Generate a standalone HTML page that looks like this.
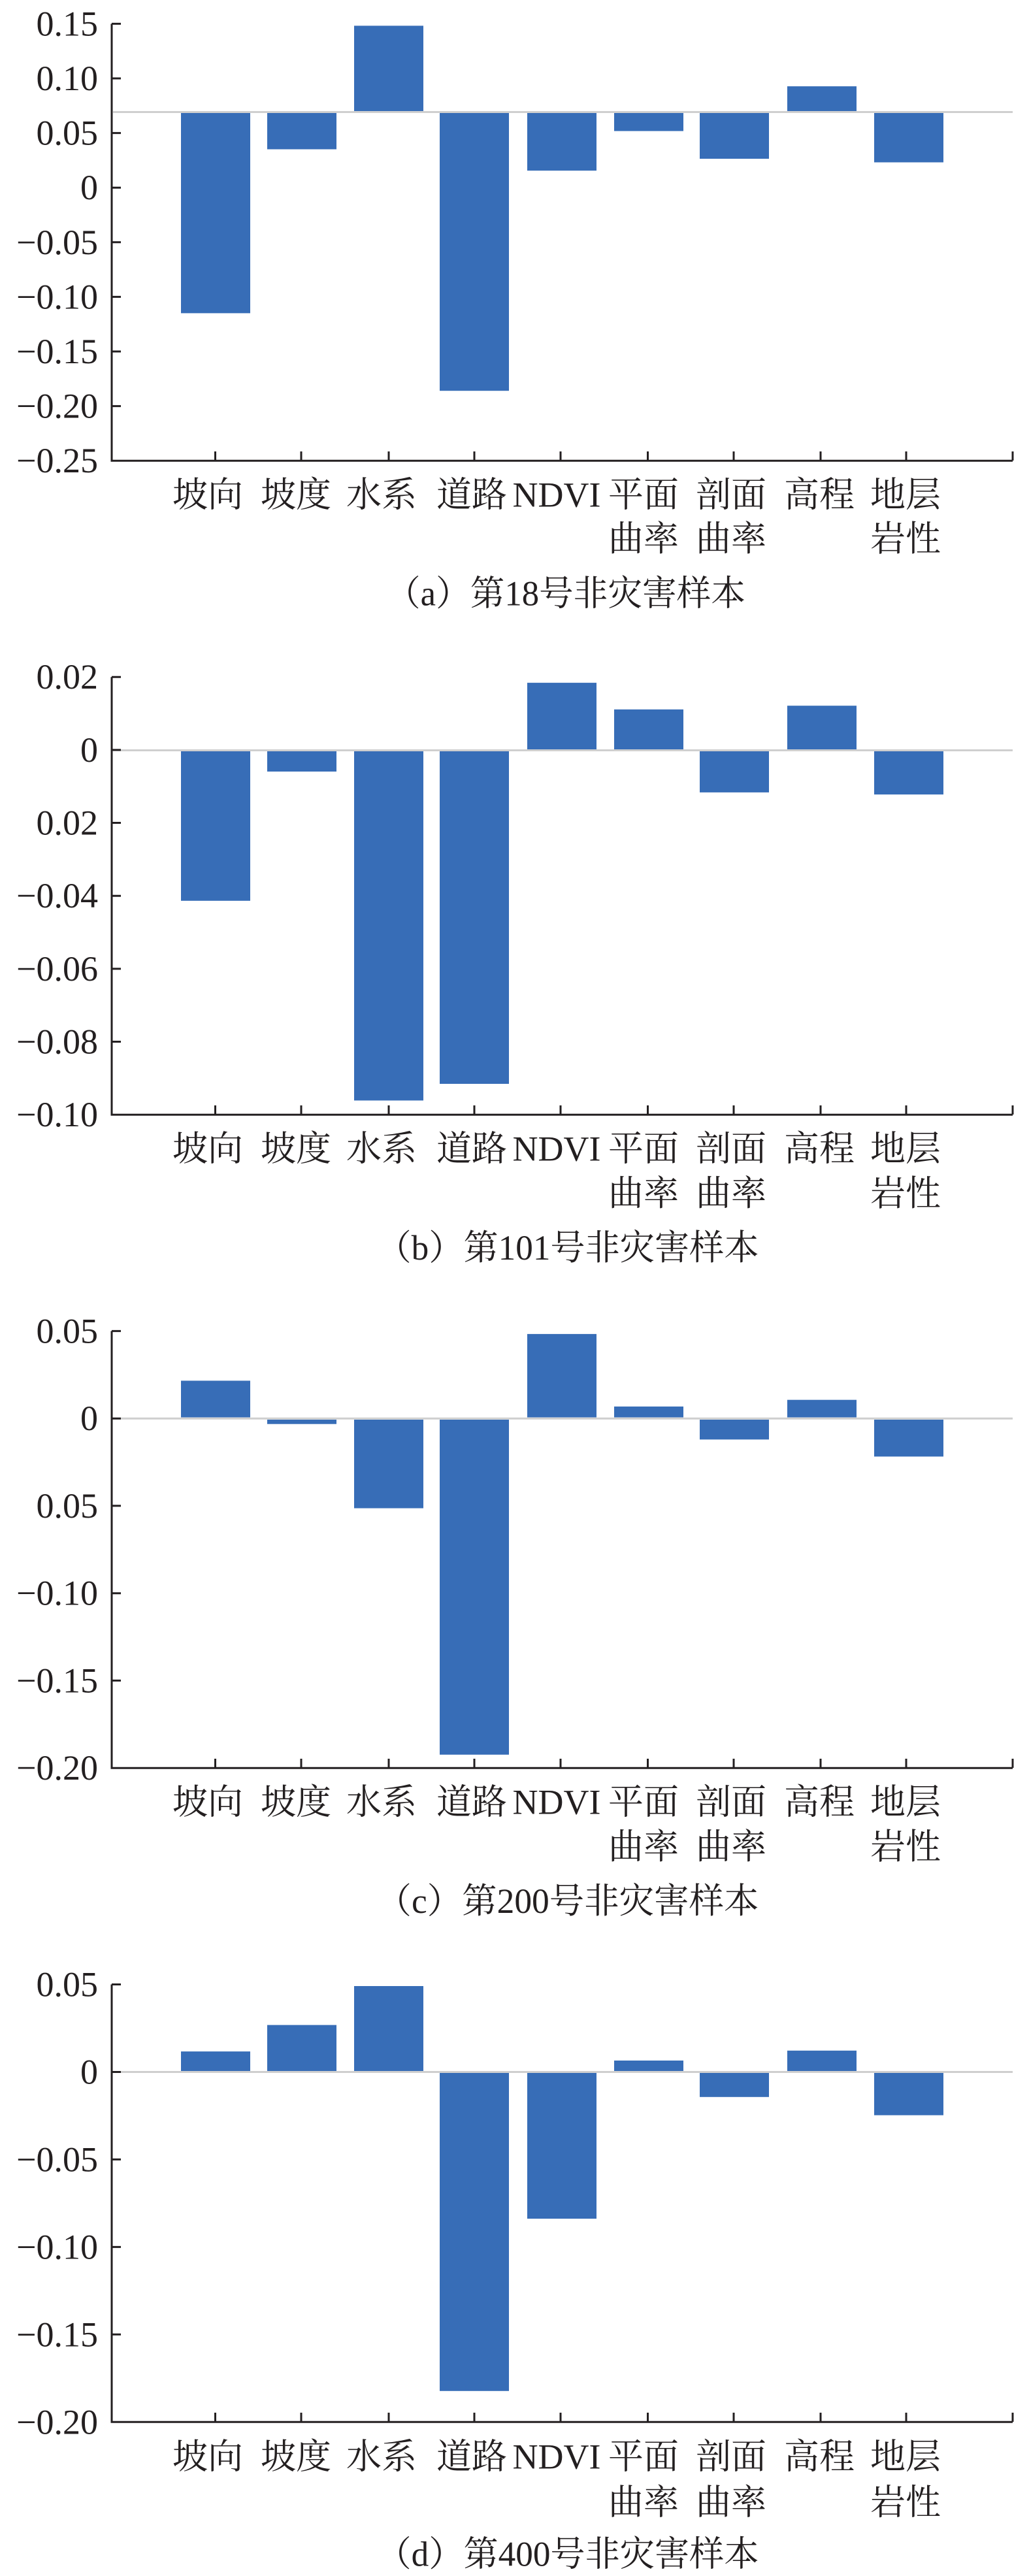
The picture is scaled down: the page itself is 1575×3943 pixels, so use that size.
<!DOCTYPE html>
<html><head><meta charset="utf-8"><style>
html,body{margin:0;padding:0;background:#fff;}
svg{display:block;}
.t{font-family:"Liberation Serif","Noto Serif CJK SC",serif;font-size:54px;fill:#231f20;}
.c{font-family:"Liberation Serif","Noto Serif CJK SC",serif;font-size:54px;fill:#231f20;text-anchor:middle;}
.y{font-family:"Liberation Serif",serif;font-size:54px;fill:#231f20;text-anchor:end;}
.b{fill:#376db7;}
</style></head><body>
<svg width="1575" height="3943" viewBox="0 0 1575 3943" xmlns="http://www.w3.org/2000/svg">
<rect width="1575" height="3943" fill="#fff"/>

<!-- Panel a -->
<g>
<rect class="b" x="277" y="173" width="106" height="306.4"/>
<rect class="b" x="409" y="173" width="106" height="55.5"/>
<rect class="b" x="542" y="39.4" width="106" height="130.6"/>
<rect class="b" x="673" y="173" width="106" height="425.2"/>
<rect class="b" x="807" y="173" width="106" height="88.2"/>
<rect class="b" x="940" y="173" width="106" height="27.6"/>
<rect class="b" x="1071" y="173" width="106" height="70"/>
<rect class="b" x="1205" y="132.1" width="106" height="37.9"/>
<rect class="b" x="1338" y="173" width="106" height="75.5"/>
<line x1="173" y1="171.5" x2="1550" y2="171.5" stroke="#cfcfcf" stroke-width="3"/>
<path d="M171 36.4V705.2H1550" fill="none" stroke="#231f20" stroke-width="3"/>
<g stroke="#231f20" stroke-width="3">
<path d="M171 36.4h14M171 120h14M171 203.6h14M171 287.2h14M171 370.8h14M171 454.4h14M171 538h14M171 621.6h14"/>
<path d="M329.5 705v-14M461 705v-14M595 705v-14M726 705v-14M858 705v-14M991.5 705v-14M1123 705v-14M1256 705v-14M1387 705v-14M1550 705v-14"/>
</g>
<text class="y" x="150" y="54.4">0.15</text>
<text class="y" x="150" y="138">0.10</text>
<text class="y" x="150" y="221.6">0.05</text>
<text class="y" x="150" y="305.2">0</text>
<text class="y" x="150" y="388.8">−0.05</text>
<text class="y" x="150" y="472.4">−0.10</text>
<text class="y" x="150" y="556">−0.15</text>
<text class="y" x="150" y="639.6">−0.20</text>
<text class="y" x="150" y="723.2">−0.25</text>
<text class="c" x="318" y="775.5">坡向</text>
<text class="c" x="453" y="775.5">坡度</text>
<text class="c" x="584" y="775.5">水系</text>
<text class="c" x="722" y="775.5">道路</text>
<text class="c" x="852" y="775.5">NDVI</text>
<text class="c" x="985" y="775.5">平面</text>
<text class="c" x="1119" y="775.5">剖面</text>
<text class="c" x="1254" y="775.5">高程</text>
<text class="c" x="1386" y="775.5">地层</text>
<text class="c" x="985" y="843">曲率</text>
<text class="c" x="1119" y="843">曲率</text>
<text class="c" x="1386" y="843">岩性</text>
<text class="c" x="866" y="926.5" textLength="550" lengthAdjust="spacingAndGlyphs">（a）第18号非灾害样本</text>
</g>

<!-- Panel b -->
<g>
<rect class="b" x="277" y="1150" width="106" height="228.8"/>
<rect class="b" x="409" y="1150" width="106" height="31"/>
<rect class="b" x="542" y="1150" width="106" height="534.5"/>
<rect class="b" x="673" y="1150" width="106" height="509"/>
<rect class="b" x="807" y="1045.1" width="106" height="101.9"/>
<rect class="b" x="940" y="1085.9" width="106" height="61.1"/>
<rect class="b" x="1071" y="1150" width="106" height="62.9"/>
<rect class="b" x="1205" y="1080.2" width="106" height="66.8"/>
<rect class="b" x="1338" y="1150" width="106" height="66.1"/>
<line x1="173" y1="1148.5" x2="1550" y2="1148.5" stroke="#cfcfcf" stroke-width="3"/>
<path d="M171 1036.2V1706.2H1550" fill="none" stroke="#231f20" stroke-width="3"/>
<g stroke="#231f20" stroke-width="3">
<path d="M171 1036.2h14M171 1147.9h14M171 1259.5h14M171 1371.2h14M171 1482.9h14M171 1594.5h14"/>
<path d="M329.5 1706v-14M461 1706v-14M595 1706v-14M726 1706v-14M858 1706v-14M991.5 1706v-14M1123 1706v-14M1256 1706v-14M1387 1706v-14M1550 1706v-14"/>
</g>
<text class="y" x="150" y="1054.2">0.02</text>
<text class="y" x="150" y="1165.9">0</text>
<text class="y" x="150" y="1277.5">0.02</text>
<text class="y" x="150" y="1389.2">−0.04</text>
<text class="y" x="150" y="1500.9">−0.06</text>
<text class="y" x="150" y="1612.5">−0.08</text>
<text class="y" x="150" y="1724.2">−0.10</text>
<text class="c" x="318" y="1776.5">坡向</text>
<text class="c" x="453" y="1776.5">坡度</text>
<text class="c" x="584" y="1776.5">水系</text>
<text class="c" x="722" y="1776.5">道路</text>
<text class="c" x="852" y="1776.5">NDVI</text>
<text class="c" x="985" y="1776.5">平面</text>
<text class="c" x="1119" y="1776.5">剖面</text>
<text class="c" x="1254" y="1776.5">高程</text>
<text class="c" x="1386" y="1776.5">地层</text>
<text class="c" x="985" y="1845">曲率</text>
<text class="c" x="1119" y="1845">曲率</text>
<text class="c" x="1386" y="1845">岩性</text>
<text class="c" x="869" y="1928" textLength="585" lengthAdjust="spacingAndGlyphs">（b）第101号非灾害样本</text>
</g>

<!-- Panel c -->
<g>
<rect class="b" x="277" y="2113.4" width="106" height="56.1"/>
<rect class="b" x="409" y="2173" width="106" height="6.7"/>
<rect class="b" x="542" y="2173" width="106" height="135.6"/>
<rect class="b" x="673" y="2173" width="106" height="512.8"/>
<rect class="b" x="807" y="2041.9" width="106" height="127.6"/>
<rect class="b" x="940" y="2152.9" width="106" height="16.6"/>
<rect class="b" x="1071" y="2173" width="106" height="30.4"/>
<rect class="b" x="1205" y="2142.7" width="106" height="26.8"/>
<rect class="b" x="1338" y="2173" width="106" height="56.5"/>
<line x1="173" y1="2171.2" x2="1550" y2="2171.2" stroke="#cfcfcf" stroke-width="3"/>
<path d="M171 2037.4V2706.2H1550" fill="none" stroke="#231f20" stroke-width="3"/>
<g stroke="#231f20" stroke-width="3">
<path d="M171 2037.4h14M171 2171.2h14M171 2304.9h14M171 2438.7h14M171 2572.4h14"/>
<path d="M329.5 2706v-14M461 2706v-14M595 2706v-14M726 2706v-14M858 2706v-14M991.5 2706v-14M1123 2706v-14M1256 2706v-14M1387 2706v-14M1550 2706v-14"/>
</g>
<text class="y" x="150" y="2055.4">0.05</text>
<text class="y" x="150" y="2189.2">0</text>
<text class="y" x="150" y="2322.9">0.05</text>
<text class="y" x="150" y="2456.7">−0.10</text>
<text class="y" x="150" y="2590.4">−0.15</text>
<text class="y" x="150" y="2724.2">−0.20</text>
<text class="c" x="318" y="2776.5">坡向</text>
<text class="c" x="453" y="2776.5">坡度</text>
<text class="c" x="584" y="2776.5">水系</text>
<text class="c" x="722" y="2776.5">道路</text>
<text class="c" x="852" y="2776.5">NDVI</text>
<text class="c" x="985" y="2776.5">平面</text>
<text class="c" x="1119" y="2776.5">剖面</text>
<text class="c" x="1254" y="2776.5">高程</text>
<text class="c" x="1386" y="2776.5">地层</text>
<text class="c" x="985" y="2845">曲率</text>
<text class="c" x="1119" y="2845">曲率</text>
<text class="c" x="1386" y="2845">岩性</text>
<text class="c" x="869" y="2928" textLength="585" lengthAdjust="spacingAndGlyphs">（c）第200号非灾害样本</text>
</g>

<!-- Panel d -->
<g>
<rect class="b" x="277" y="3140.1" width="106" height="29.9"/>
<rect class="b" x="409" y="3099.6" width="106" height="70.4"/>
<rect class="b" x="542" y="3040" width="106" height="130"/>
<rect class="b" x="673" y="3173" width="106" height="486.8"/>
<rect class="b" x="807" y="3173" width="106" height="223.1"/>
<rect class="b" x="940" y="3154" width="106" height="16"/>
<rect class="b" x="1071" y="3173" width="106" height="36.8"/>
<rect class="b" x="1205" y="3138.8" width="106" height="31.2"/>
<rect class="b" x="1338" y="3173" width="106" height="64.7"/>
<line x1="173" y1="3171.5" x2="1550" y2="3171.5" stroke="#cfcfcf" stroke-width="3"/>
<path d="M171 3037.5V3707.3H1550" fill="none" stroke="#231f20" stroke-width="3"/>
<g stroke="#231f20" stroke-width="3">
<path d="M171 3037.5h14M171 3171.5h14M171 3305.4h14M171 3439.4h14M171 3573.3h14"/>
<path d="M329.5 3707v-14M461 3707v-14M595 3707v-14M726 3707v-14M858 3707v-14M991.5 3707v-14M1123 3707v-14M1256 3707v-14M1387 3707v-14M1550 3707v-14"/>
</g>
<text class="y" x="150" y="3055.5">0.05</text>
<text class="y" x="150" y="3189.5">0</text>
<text class="y" x="150" y="3323.4">−0.05</text>
<text class="y" x="150" y="3457.4">−0.10</text>
<text class="y" x="150" y="3591.3">−0.15</text>
<text class="y" x="150" y="3725.3">−0.20</text>
<text class="c" x="318" y="3778.5">坡向</text>
<text class="c" x="453" y="3778.5">坡度</text>
<text class="c" x="584" y="3778.5">水系</text>
<text class="c" x="722" y="3778.5">道路</text>
<text class="c" x="852" y="3778.5">NDVI</text>
<text class="c" x="985" y="3778.5">平面</text>
<text class="c" x="1119" y="3778.5">剖面</text>
<text class="c" x="1254" y="3778.5">高程</text>
<text class="c" x="1386" y="3778.5">地层</text>
<text class="c" x="985" y="3848.5">曲率</text>
<text class="c" x="1119" y="3848.5">曲率</text>
<text class="c" x="1386" y="3848.5">岩性</text>
<text class="c" x="869" y="3927.5" textLength="585" lengthAdjust="spacingAndGlyphs">（d）第400号非灾害样本</text>
</g>
</svg>
</body></html>
